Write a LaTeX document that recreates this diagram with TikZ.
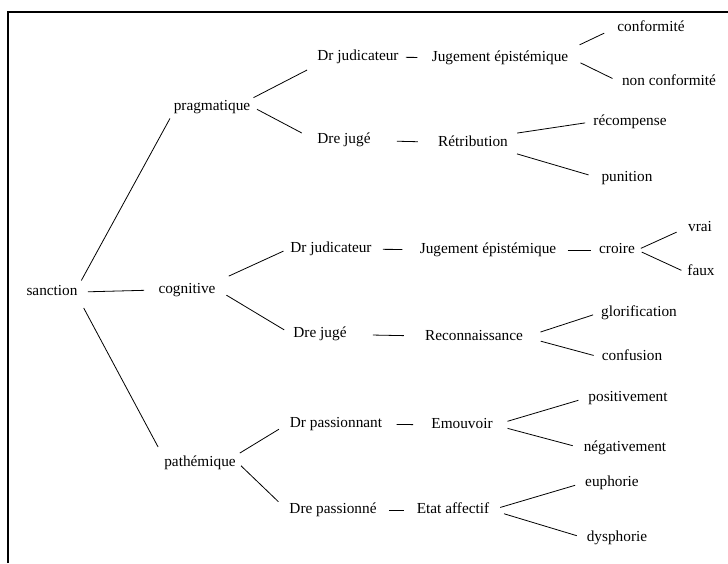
\documentclass[tikz,border=0pt]{standalone}
\usepackage{fontspec}
\setmainfont{Liberation Serif}
\usepackage{tikz}

\begin{document}
\begin{tikzpicture}[x=1pt,y=-1pt,line width=0.8pt,
  every node/.style={font=\fontsize{15.3}{18}\selectfont,inner sep=2pt,
    text height=10pt,text depth=3pt}]
    \useasboundingbox (0,0) rectangle (728,563);
    \draw[line width=2pt] (8,563) -- (8,12) -- (728,12);

    % racine et trois branches
    \node (sanc) at (52,292) {sanction};
    \node (prag) at (212,107) {pragmatique};
    \node (cogn) at (187,290) {cognitive};
    \node (path) at (200,463) {pathémique};

    \node (dj1) at (358,57) {Dr judicateur};
    \node (dre1) at (344,140) {Dre jugé};
    \node (dj2) at (331,249) {Dr judicateur};
    \node (dre2) at (320,334) {Dre jugé};
    \node (dpa) at (336,424) {Dr passionnant};
    \node (dpe) at (333,510) {Dre passionné};

    \node (je1) at (500,58) {Jugement épistémique};
    \node (retr) at (473,143) {Rétribution};
    \node (je2) at (488,250) {Jugement épistémique};
    \node (croi) at (617,250) {croire};
    \node (reco) at (474,337) {Reconnaissance};
    \node (emou) at (462,425) {Emouvoir};
    \node (etat) at (453,510) {Etat affectif};

    \node (conf) at (651,28) {conformité};
    \node (nconf) at (669,82) {non conformité};
    \node (recp) at (630,122) {récompense};
    \node (puni) at (627,178) {punition};
    \node (vrai) at (700,228) {vrai};
    \node (faux) at (701,272) {faux};
    \node (glor) at (639,313) {glorification};
    \node (cfus) at (632,357) {confusion};
    \node (posi) at (628,398) {positivement};
    \node (nega) at (625,448) {négativement};
    \node (euph) at (612,483) {euphorie};
    \node (dysp) at (617,538) {dysphorie};

    \draw[shorten <=3pt,shorten >=3pt] (sanc.north east) -- (prag.south west);
    \draw[shorten <=8pt,shorten >=12pt] (sanc.east) -- (cogn.west);
    \draw[shorten <=8pt,shorten >=8pt] (sanc.south east) -- (path.north west);

    \draw[shorten <=1pt,shorten >=9pt] (prag.north east) -- (dj1.south west);
    \draw[shorten <=5pt,shorten >=15pt] (prag.east) -- (dre1.west);
    \draw[shorten <=12pt,shorten >=5pt] (cogn.north east) -- (dj2.west);
    \draw[shorten <=10pt,shorten >=8pt] (cogn.east) -- (dre2.west);
    \draw[shorten <=2pt,shorten >=10pt] (path.north east) -- (dpa.west);
    \draw[shorten <=4pt,shorten >=12pt] (path.east) -- (dpe.west);

    \draw[shorten <=5pt,shorten >=12pt] (dj1) -- (je1);
    \draw[shorten <=24pt,shorten >=18pt] (dre1) -- (retr);
    \draw[shorten <=9pt,shorten >=15pt] (dj2) -- (je2);
    \draw[shorten <=9pt,shorten >=6pt] (je2) -- (croi);
    \draw[shorten <=24pt,shorten >=19pt] (dre2) -- (reco);
    \draw[shorten <=12pt,shorten >=16pt] (dpa) -- (emou);
    \draw[shorten <=10pt,shorten >=10pt] (dpe) -- (etat);

    \draw[shorten <=10pt,shorten >=12pt] (je1.north east) -- (conf.west);
    \draw[shorten <=11pt,shorten >=8pt] (je1.east) -- (nconf.west);
    \draw[shorten <=7pt,shorten >=6pt] (retr.north east) -- (recp.west);
    \draw[shorten <=7pt,shorten >=11pt] (retr.south east) -- (puni.west);
    \draw[shorten <=4pt,shorten >=10pt] (croi.east) -- (vrai.west);
    \draw[shorten <=5pt,shorten >=4pt] (croi.east) -- (faux.west);
    \draw[shorten <=16pt,shorten >=6pt] (reco.east) -- (glor.west);
    \draw[shorten <=16pt,shorten >=6pt] (reco.east) -- (cfus.west);
    \draw[shorten <=13pt,shorten >=8pt] (emou.east) -- (posi.west);
    \draw[shorten <=13pt,shorten >=9pt] (emou.east) -- (nega.west);
    \draw[shorten <=9pt,shorten >=8pt] (etat.east) -- (euph.west);
    \draw[shorten <=13pt,shorten >=8pt] (etat.east) -- (dysp.west);
\end{tikzpicture}
\end{document}
